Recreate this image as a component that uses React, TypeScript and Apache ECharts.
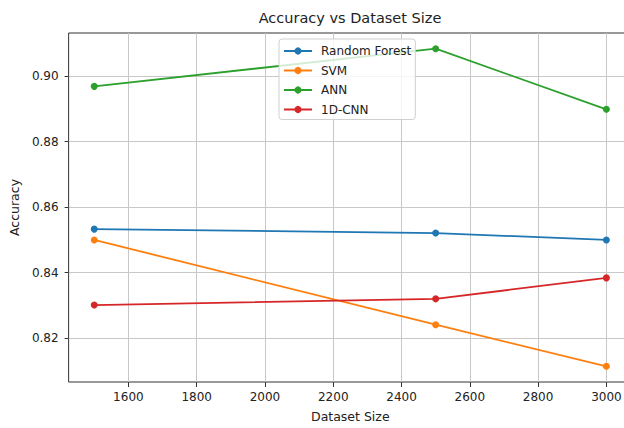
import React, { useEffect, useRef } from "react";
import * as echarts from "echarts";

const datasetSizes = [1500, 2500, 3000];
const seriesNames = ["Random Forest", "SVM", "ANN", "1D-CNN"];
const randomForest = [0.8533, 0.8521, 0.85];
const svm = [0.85, 0.8241, 0.8114];
const ann = [0.8969, 0.9084, 0.8899];
const cnn1d = [0.8301, 0.832, 0.8384];
const colors = ["#1f77b4", "#ff7f0e", "#2ca02c", "#d62728"];
const xTicks = [1600, 1800, 2000, 2200, 2400, 2600, 2800, 3000];
const yTicks = [0.82, 0.84, 0.86, 0.88, 0.9];

const FONT = "DejaVu Sans";

export default function App() {
  const ref = useRef<HTMLDivElement>(null);
  useEffect(() => {
    if (!ref.current) return;
    const chart = echarts.init(ref.current, undefined, { renderer: "svg" });
    const values = [randomForest, svm, ann, cnn1d];
    const series = values.map((vals, i) => ({
      name: seriesNames[i],
      type: "line",
      data: datasetSizes.map((x, j) => [x, vals[j]]),
      symbol: "circle",
      symbolSize: 7,
      showSymbol: true,
      lineStyle: { width: 1.8, color: colors[i] },
      itemStyle: { color: colors[i] },
      z: 3,
    }));
    chart.setOption({
      animation: false,
      backgroundColor: "#ffffff",
      textStyle: { fontFamily: FONT },
      graphic: [
        {
          type: "text",
          x: 350,
          y: 18,
          style: {
            text: "Accuracy vs Dataset Size",
            fontSize: 14.5,
            fontFamily: FONT,
            fill: "#222",
            align: "center",
            verticalAlign: "middle",
          },
        },
      ],
      grid: {
        left: 68,
        top: 33,
        right: 8,
        bottom: 40.5,
        show: true,
        borderColor: "#333",
        borderWidth: 1,
        backgroundColor: "transparent",
      },
      legend: {
        orient: "vertical",
        left: 279,
        top: 39,
        padding: [6, 4, 4, 4],
        itemWidth: 28,
        itemHeight: 9,
        itemGap: 7.5,
        backgroundColor: "rgba(255,255,255,0.8)",
        borderColor: "#d0d0d0",
        borderWidth: 1,
        borderRadius: 3,
        textStyle: { fontSize: 12, fontFamily: FONT, color: "#222", padding: [0, 0, 0, 4] },
        data: seriesNames,
        z: 10,
      },
      xAxis: {
        type: "value",
        min: 1425,
        max: 3075,
        name: "Dataset Size",
        nameLocation: "middle",
        nameGap: 28,
        nameTextStyle: { fontSize: 12.5, fontFamily: FONT, color: "#222" },
        axisLine: { show: false },
        axisTick: { show: true, customValues: xTicks, length: 5, lineStyle: { color: "#333" } },
        axisLabel: {
          customValues: xTicks,
          fontSize: 12,
          fontFamily: FONT,
          color: "#222",
          margin: 9,
          formatter: (v: number) => String(v),
        },
        splitLine: { show: true, lineStyle: { color: "#c8c8c8", width: 1 } },
      },
      yAxis: {
        type: "value",
        min: 0.8066,
        max: 0.9132,
        name: "Accuracy",
        nameLocation: "middle",
        nameGap: 41,
        nameTextStyle: { fontSize: 12.5, fontFamily: FONT, color: "#222" },
        axisLine: { show: false },
        axisTick: { show: true, customValues: yTicks, length: 4, lineStyle: { color: "#333" } },
        axisLabel: {
          customValues: yTicks,
          fontSize: 12,
          fontFamily: FONT,
          color: "#222",
          margin: 10,
          formatter: (v: number) => v.toFixed(2),
        },
        splitLine: { show: true, lineStyle: { color: "#c8c8c8", width: 1 } },
      },
      series,
    });
    return () => chart.dispose();
  }, []);
  return (
    <div
      style={{
        position: "fixed",
        left: 0,
        top: 0,
        width: 624,
        height: 428,
        overflow: "hidden",
        background: "#fff",
      }}
    >
      <div ref={ref} style={{ width: 640, height: 428 }} />
    </div>
  );
}
